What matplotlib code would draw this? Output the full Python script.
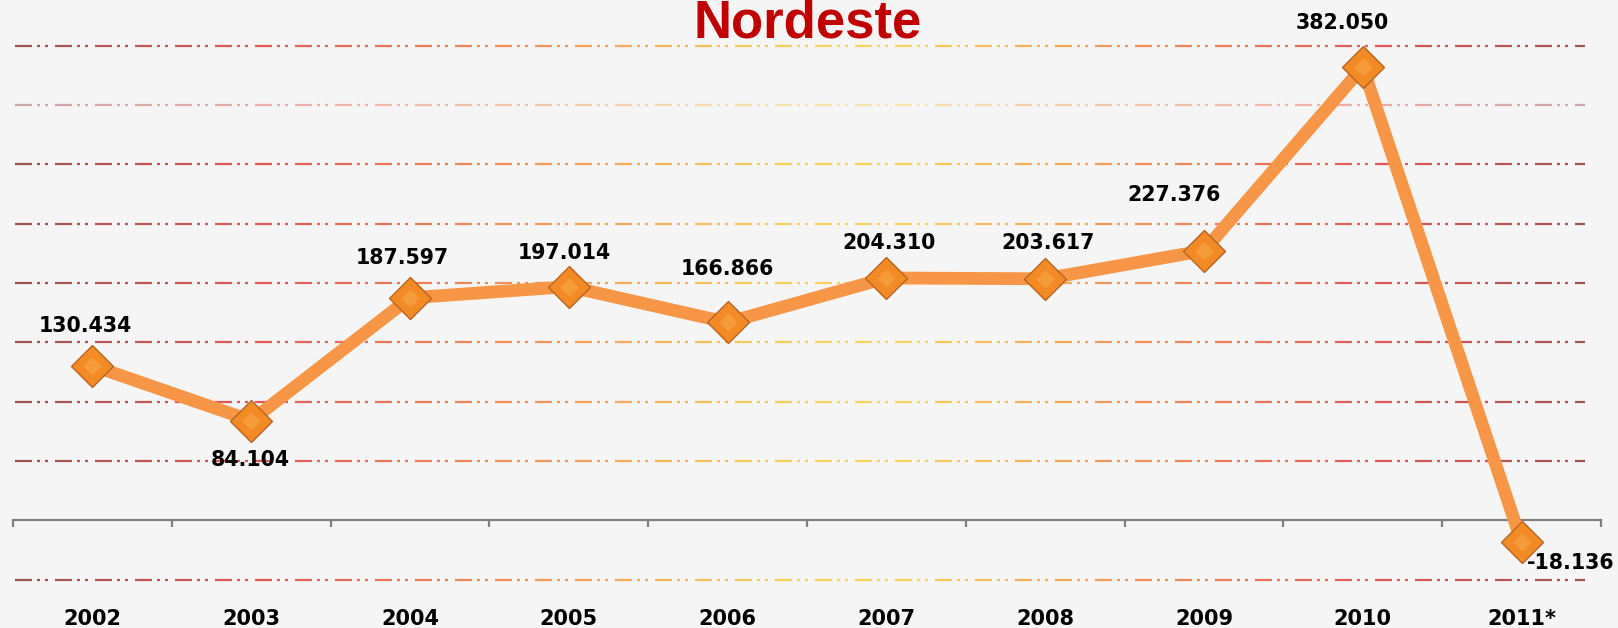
import numpy as np
import matplotlib
matplotlib.use("Agg")
import matplotlib.pyplot as plt
from matplotlib.collections import LineCollection
from matplotlib.colors import LinearSegmentedColormap

# ---- data ----
years = ["2002", "2003", "2004", "2005", "2006", "2007", "2008", "2009", "2010", "2011*"]
values = [130434, 84104, 187597, 197014, 166866, 204310, 203617, 227376, 382050, -18136]
title = "Nordeste"

# label offsets (pixels, +y up) relative to each point
label_dx = [-7, -1, -8, -4, 0, 3, 3, -30, -20, 49]
label_dy = [40, -39, 40, 34, 53, 35, 36, 56, 44, -21]

W, H, DPI = 1618, 628, 100
fig = plt.figure(figsize=(W / DPI, H / DPI), dpi=DPI, facecolor="#f5f5f5")
ax = fig.add_axes([13 / W, 0, 1588 / W, 1])
ax.set_facecolor("#f5f5f5")

n = len(years)
x = np.arange(n)
ax.set_xlim(-0.5, n - 0.5)
ax.set_ylim(-90600, 438500)

# ---- decorative gradient dash-dot gridlines ----
grid_levels = [v for v in range(-50000, 400001, 50000) if v != 0]
cmap = LinearSegmentedColormap.from_list(
    "grid",
    [(0.0, "#9c4a4a"), (0.15, "#e25050"), (0.32, "#f29050"), (0.48, "#f8cf55"),
     (0.56, "#f8d255"), (0.70, "#f29050"), (0.86, "#e25050"), (1.0, "#9c4a4a")])
px_per_x = 1588 / n
x_start = -0.5 + 2 / px_per_x
x_end = n - 0.5 - 16 / px_per_x
period = 40 / px_per_x
for lvl in grid_levels:
    segs, cols = [], []
    x0 = x_start
    while x0 < x_end:
        t = (x0 - x_start) / (x_end - x_start)
        c = cmap(t)
        for a, b in [(0, 17), (22, 25), (30, 33)]:
            xa = x0 + a / px_per_x
            xb = min(x0 + b / px_per_x, x_end)
            if xa < x_end:
                segs.append([(xa, lvl), (xb, lvl)])
                cols.append(c)
        x0 += period
    alpha = 0.45 if lvl == 350000 else 0.95
    lc = LineCollection(segs, colors=cols, linewidths=1.6, alpha=alpha, zorder=1,
                        capstyle="butt")
    ax.add_collection(lc)

# ---- axis ----
for s in ["left", "top", "right"]:
    ax.spines[s].set_visible(False)
ax.spines["bottom"].set_position(("data", 0))
ax.spines["bottom"].set_color("#7f7f7f")
ax.spines["bottom"].set_linewidth(1.6)
ax.spines["bottom"].set_zorder(2)
ax.set_yticks([])
ax.set_xticks(np.arange(-0.5, n, 1.0))
ax.set_xticklabels([])
ax.tick_params(axis="x", which="major", direction="out", length=5, width=1.6,
               color="#7f7f7f")
ax.set_xticks(x, minor=True)
ax.set_xticklabels(years, minor=True)
ax.tick_params(axis="x", which="minor", length=0, pad=64, labelsize=15)
for lab in ax.get_xticklabels(minor=True):
    lab.set_fontweight("bold")
    lab.set_family("DejaVu Sans")

# ---- series ----
ax.plot(x, values, color="#f79646", lw=9.2, solid_joinstyle="miter", zorder=3)
ax.plot(x, values, ls="none", marker="D", ms=21, mfc="#f28a26", mec="#b86420",
        mew=1.0, zorder=4)
ax.plot(x, values, ls="none", marker="D", ms=9, mfc="#f9a848", mec="none",
        alpha=0.6, zorder=5)

for xi, v, dx, dy in zip(x, values, label_dx, label_dy):
    ax.annotate(f"{v:,}".replace(",", "."), (xi, v), xytext=(dx * 0.72, dy * 0.72),
                textcoords="offset points", ha="center", va="center",
                fontsize=14.8, fontweight="bold", family="DejaVu Sans",
                color="black", zorder=6)

fig.text(808 / W, 1 - 37.5 / H, title, ha="center", va="baseline",
         fontsize=38, fontweight="bold", family="Liberation Sans", color="#c00000")

fig.savefig("out.png", dpi=DPI, facecolor=fig.get_facecolor())
